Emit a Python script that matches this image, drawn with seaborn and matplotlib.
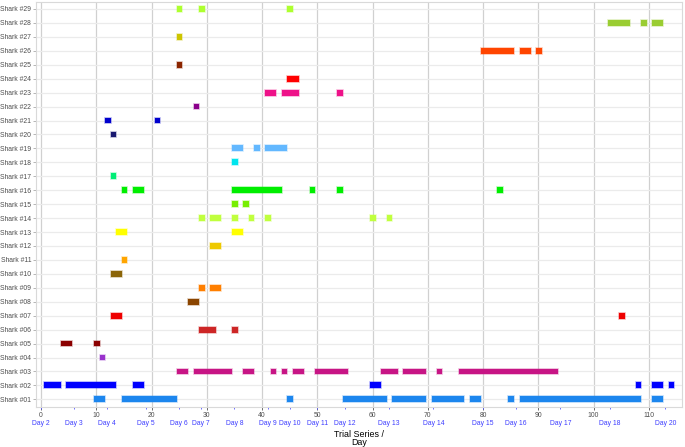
import matplotlib
matplotlib.use("Agg")
import matplotlib.pyplot as plt
from matplotlib.colors import to_rgba
import seaborn as sns
import pandas as pd

# one entry per shark, bottom (#01) to top (#29)
shark_ids = list(range(1, 30))
shark_labels = ["Shark #%02d" % i for i in shark_ids]
shark_colors = [
    "#1C86EE", "#0000FF", "#C71585", "#9932CC", "#8B0000", "#CD2626", "#EE0000",
    "#8B4500", "#FF7F00", "#8B6508", "#FFA500", "#EEC900", "#FFFF00", "#C0FF3E",
    "#76EE00", "#00EE00", "#00EE76", "#00E5EE", "#63B8FF", "#191970", "#0000CD",
    "#8B008B", "#EE1289", "#FF0000", "#8B2500", "#FF4500", "#CDC500", "#9ACD32",
    "#ADFF2F",
]

# detection periods (trial series)
seg_shark = (
    [1] * 10 + [2] * 7 + [3] * 11 + [4] + [5] * 2 + [6] * 2 + [7] * 2 + [8]
    + [9] * 2 + [10] + [11] + [12] + [13] * 2 + [14] * 7 + [15] * 2 + [16] * 6
    + [17] + [18] + [19] * 3 + [20] + [21] * 2 + [22] + [23] * 3 + [24] + [25]
    + [26] * 3 + [27] + [28] * 3 + [29] * 3
)
seg_start = [
    9.6, 14.6, 44.6, 54.7, 63.6, 70.7, 77.6, 84.6, 86.6, 110.6,
    0.6, 4.6, 16.6, 59.6, 107.6, 110.6, 113.6,
    24.6, 27.6, 36.6, 41.6, 43.6, 45.6, 49.6, 61.6, 65.6, 71.6, 75.6,
    10.6,
    3.6, 9.6,
    28.6, 34.6,
    12.6, 104.6,
    26.6,
    28.6, 30.6,
    12.6,
    14.6,
    30.6,
    13.6, 34.6,
    28.6, 30.6, 34.6, 37.6, 40.6, 59.6, 62.6,
    34.6, 36.6,
    14.6, 16.6, 34.6, 48.6, 53.6, 82.6,
    12.6,
    34.6,
    34.6, 38.6, 40.6,
    12.6,
    11.6, 20.6,
    27.6,
    40.6, 43.6, 53.6,
    44.6,
    24.6,
    79.6, 86.6, 89.6,
    24.6,
    102.6, 108.6, 110.6,
    24.6, 28.6, 44.6,
]
seg_end = [
    11.6, 24.6, 45.6, 62.6, 69.6, 76.6, 79.6, 85.6, 108.6, 112.6,
    3.6, 13.6, 18.6, 61.6, 108.6, 112.6, 114.6,
    26.6, 34.6, 38.6, 42.6, 44.6, 47.6, 55.6, 64.6, 69.6, 72.6, 93.6,
    11.6,
    5.6, 10.6,
    31.6, 35.6,
    14.6, 105.6,
    28.6,
    29.6, 32.6,
    14.6,
    15.6,
    32.6,
    15.6, 36.6,
    29.6, 32.6, 35.6, 38.6, 41.6, 60.6, 63.6,
    35.6, 37.6,
    15.6, 18.6, 43.6, 49.6, 54.6, 83.6,
    13.6,
    35.6,
    36.6, 39.6, 44.6,
    13.6,
    12.6, 21.6,
    28.6,
    42.6, 46.6, 54.6,
    46.6,
    25.6,
    85.6, 88.6, 90.6,
    25.6,
    106.6, 109.6, 112.6,
    25.6, 29.6, 45.6,
]

# day boundaries on the trial series axis
day_pos = [0, 6, 12, 19, 25, 29, 35, 41, 45, 50, 55, 63, 71, 80, 86, 94, 103, 113]
day_labels = ["Day %d" % d for d in [2, 3, 4, 5, 6, 7, 8, 9, 10, 11, 12, 13, 14, 15, 16, 17, 18, 20]]
trial_ticks = list(range(0, 111, 10))

df = pd.DataFrame({"shark": seg_shark, "start": seg_start, "end": seg_end})
df["length"] = df["end"] - df["start"]
color_map = dict(zip(shark_ids, shark_colors))

sns.set_style("whitegrid")
plt.rcParams["font.family"] = ["Liberation Sans", "DejaVu Sans"]

fig = plt.figure(figsize=(6.85, 4.47), dpi=100)
ax = fig.add_axes([0.0526, 0.0895, 0.9430, 0.9060])

for shark, grp in df.groupby("shark"):
    c = color_map[shark]
    ax.barh(grp["shark"], grp["length"], left=grp["start"], height=0.42,
            color=c, edgecolor=to_rgba(c, 0.35), linewidth=1.1, zorder=3)

ax.set_xlim(-0.9, 116)
ax.set_ylim(0.45, 29.5)
ax.set_yticks(shark_ids)
ax.set_yticklabels(shark_labels)

ax.set_xticks(trial_ticks)
ax.set_xticklabels([str(t) for t in trial_ticks])
ax.set_xticks(day_pos, minor=True)
ax.set_xticklabels(day_labels, minor=True)
ax.xaxis.remove_overlapping_locs = False

ax.grid(False)
ax.grid(axis="x", which="major", color="#d0d0d0", linewidth=0.9, zorder=0)
ax.grid(axis="y", which="major", color="#ebebeb", linewidth=0.9, zorder=0)

ax.tick_params(axis="y", which="major", labelsize=4.9, labelcolor="#4d4d4d",
               length=2, width=0.6, color="#aaaaaa", pad=1.5, left=True)
ax.tick_params(axis="x", which="major", labelsize=4.9, labelcolor="#4d4d4d",
               length=2.2, width=0.6, color="#555555", pad=1.6, bottom=True)
ax.tick_params(axis="x", which="minor", labelsize=4.9, labelcolor="#3d3dff",
               length=1.6, width=0.6, color="#5555ff", pad=8.0, bottom=True)

for side in ["top", "right", "left", "bottom"]:
    ax.spines[side].set_visible(True)
    ax.spines[side].set_color("#d9d9d9")
    ax.spines[side].set_linewidth(0.8)

ax.set_xlabel("Trial Series /\nDay", fontsize=6.4, color="black", labelpad=1.8,
              linespacing=0.95)
ax.set_ylabel("")

fig.savefig("out.png", dpi=100)
plt.close(fig)
